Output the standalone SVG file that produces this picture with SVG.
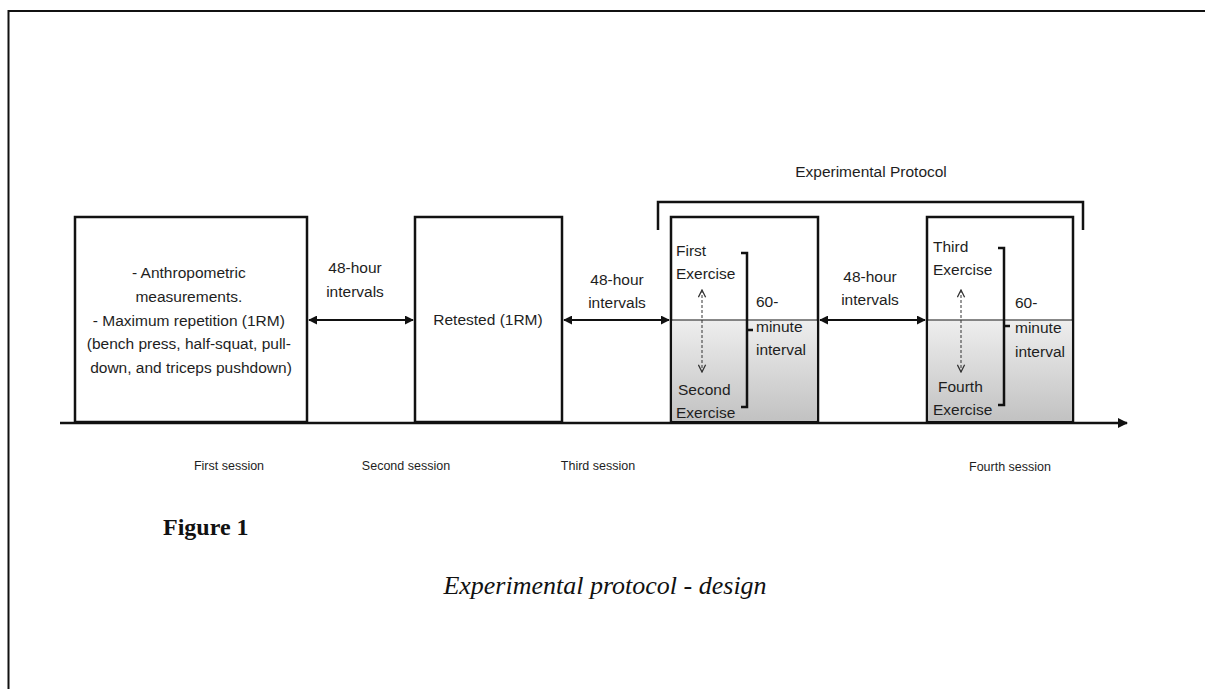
<svg xmlns="http://www.w3.org/2000/svg" width="1205" height="689" viewBox="0 0 1205 689">
<style>
.t{font-family:"Liberation Sans",Arial,sans-serif;font-size:15.5px;fill:#1e1e1e}
.s{font-family:"Liberation Sans",Arial,sans-serif;font-size:12.5px;fill:#1e1e1e}
.box{fill:#fff;stroke:#111;stroke-width:2.5}
.ln{fill:none;stroke:#111;stroke-width:2.5}
.ar{fill:none;stroke:#111;stroke-width:2;marker-start:url(#ah);marker-end:url(#ah)}
.da{fill:none;stroke:#333;stroke-width:1;stroke-dasharray:3 2}
</style>
<defs>
<marker id="ah" viewBox="0 0 10 10" refX="9" refY="5" markerWidth="4.5" markerHeight="4.5" orient="auto-start-reverse" markerUnits="strokeWidth">
<path d="M0,0 L10,5 L0,10 Z" fill="#111"/>
</marker>
<marker id="ta" viewBox="0 0 10 10" refX="9" refY="5" markerWidth="4" markerHeight="4" orient="auto" markerUnits="strokeWidth">
<path d="M0,0 L10,5 L0,10 Z" fill="#111"/>
</marker>
<marker id="ch" viewBox="0 0 10 10" refX="9" refY="5" markerWidth="9" markerHeight="9" orient="auto-start-reverse" markerUnits="userSpaceOnUse">
<path d="M1,1 L9,5 L1,9" fill="none" stroke="#333" stroke-width="1.4"/>
</marker>
<linearGradient id="g" x1="0" y1="0" x2="0" y2="1">
<stop offset="0" stop-color="#eeeeee"/>
<stop offset="1" stop-color="#c2c2c2"/>
</linearGradient>
</defs>
<rect width="1205" height="689" fill="#fff"/>
<path d="M8.5,689 L8.5,11 L1205,11" fill="none" stroke="#111" stroke-width="2"/>

<g id="connectors">
<line x1="60" y1="423" x2="1127" y2="423" stroke="#111" stroke-width="2.5" marker-end="url(#ta)"/>
<line class="ar" x1="309" y1="320" x2="413" y2="320"/>
<line class="ar" x1="564" y1="320" x2="669" y2="320"/>
<line class="ar" x1="820" y1="320" x2="925" y2="320"/>
<path class="ln" d="M658,230 L658,202 L1083,202 L1083,230"/>
</g>

<g id="first-session">
<rect class="box" x="75" y="217" width="232" height="205"/>
<text class="t" text-anchor="middle" x="191">
<tspan x="191" y="278">- Anthropometric</tspan>
<tspan x="191" y="302">measurements.</tspan>
<tspan x="191" y="326">- Maximum repetition (1RM)</tspan>
<tspan x="191" y="349">(bench press, half-squat, pull-</tspan>
<tspan x="191" y="373">down, and triceps pushdown)</tspan>
</text>
<text class="s" x="229" y="470" text-anchor="middle">First session</text>
</g>

<g id="interval-1">
<text class="t" text-anchor="middle"><tspan x="355" y="273">48-hour</tspan><tspan x="355" y="297">intervals</tspan></text>
</g>

<g id="second-session">
<rect class="box" x="415" y="217" width="147" height="205"/>
<text class="t" x="488" y="325" text-anchor="middle">Retested (1RM)</text>
<text class="s" x="406" y="470" text-anchor="middle">Second session</text>
</g>

<g id="interval-2">
<text class="t" text-anchor="middle"><tspan x="617" y="285">48-hour</tspan><tspan x="617" y="308">intervals</tspan></text>
</g>

<g id="experimental-protocol">
<text class="t" x="871" y="177" text-anchor="middle">Experimental Protocol</text>
</g>

<g id="third-session">
<rect class="box" x="671" y="217" width="147" height="205"/>
<rect x="672.25" y="320.5" width="144.5" height="100.25" fill="url(#g)"/>
<line x1="671" y1="320" x2="818" y2="320" stroke="#111" stroke-width="1"/>
<text class="t"><tspan x="676" y="256">First</tspan><tspan x="676" y="279">Exercise</tspan></text>
<text class="t"><tspan x="678" y="395">Second</tspan><tspan x="676" y="418">Exercise</tspan></text>
<line class="da" x1="702" y1="290" x2="702" y2="372" marker-start="url(#ch)" marker-end="url(#ch)"/>
<path class="ln" d="M741,253 L747,253 L747,407 L741,407 M747,330 L753,330"/>
<text class="t"><tspan x="756" y="307">60-</tspan><tspan x="756" y="332">minute</tspan><tspan x="756" y="355">interval</tspan></text>
<text class="s" x="598" y="470" text-anchor="middle">Third session</text>
</g>

<g id="interval-3">
<text class="t" text-anchor="middle"><tspan x="870" y="282">48-hour</tspan><tspan x="870" y="305">intervals</tspan></text>
</g>

<g id="fourth-session">
<rect class="box" x="927" y="217" width="146" height="205"/>
<rect x="928.25" y="320.5" width="143.5" height="100.25" fill="url(#g)"/>
<line x1="927" y1="320" x2="1073" y2="320" stroke="#111" stroke-width="1"/>
<text class="t"><tspan x="933" y="252">Third</tspan><tspan x="933" y="275">Exercise</tspan></text>
<text class="t"><tspan x="938" y="392">Fourth</tspan><tspan x="933" y="415">Exercise</tspan></text>
<line class="da" x1="961" y1="290" x2="961" y2="372" marker-start="url(#ch)" marker-end="url(#ch)"/>
<path class="ln" d="M998,248 L1004,248 L1004,405 L998,405 M1004,326 L1010,326"/>
<text class="t"><tspan x="1015" y="308">60-</tspan><tspan x="1015" y="333">minute</tspan><tspan x="1015" y="357">interval</tspan></text>
<text class="s" x="1010" y="471" text-anchor="middle">Fourth session</text>
</g>

<g id="caption">
<text x="163" y="535" font-family="'Liberation Serif','Times New Roman',serif" font-weight="bold" font-size="24" fill="#111">Figure 1</text>
<text x="605" y="594" text-anchor="middle" font-family="'Liberation Serif','Times New Roman',serif" font-style="italic" font-size="26" fill="#111">Experimental protocol - design</text>
</g>
</svg>
